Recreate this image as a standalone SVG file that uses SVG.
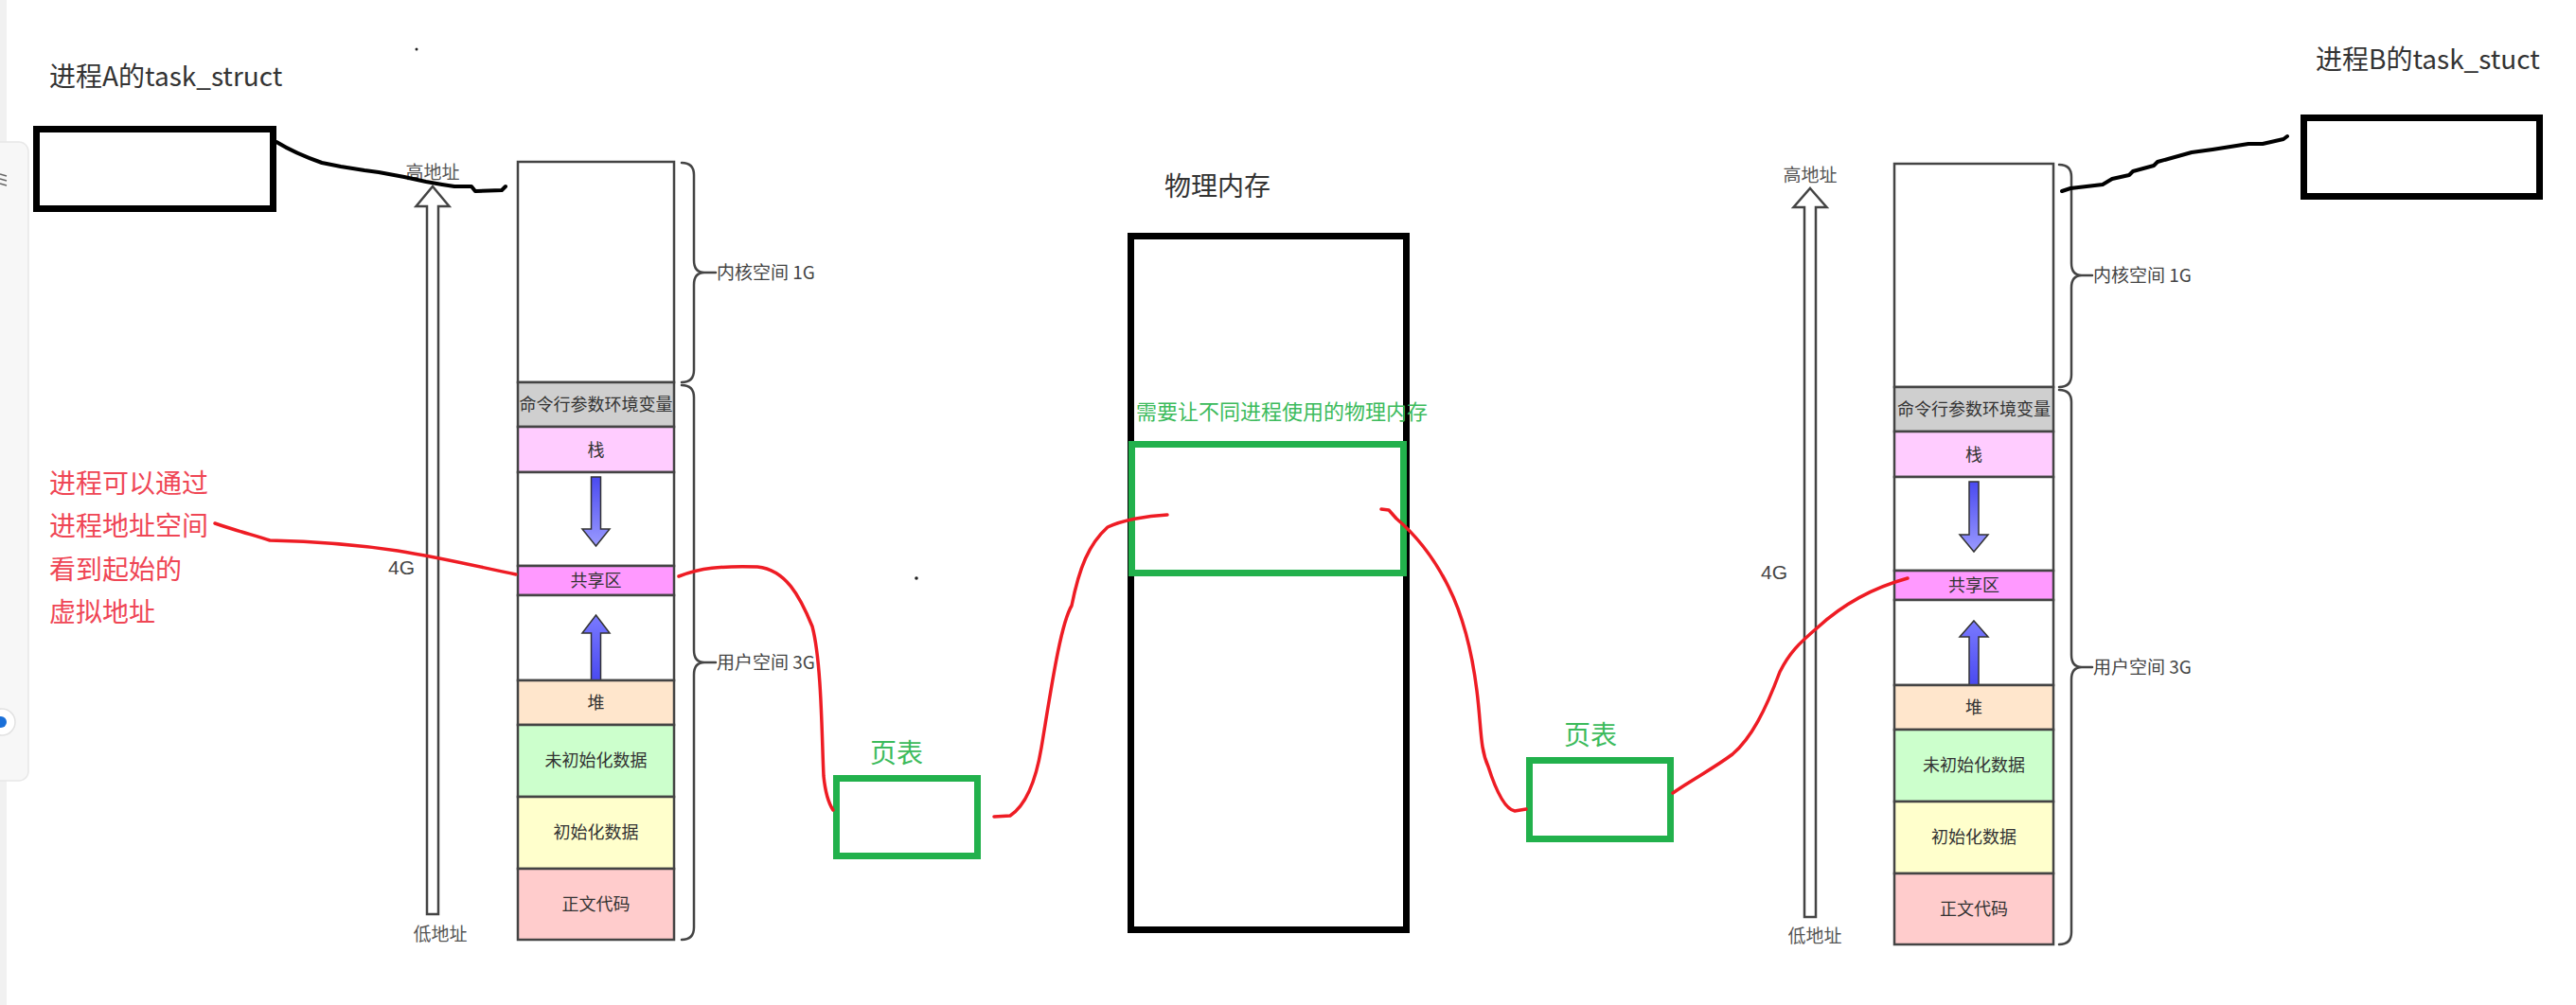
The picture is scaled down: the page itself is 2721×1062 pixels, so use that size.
<svg xmlns="http://www.w3.org/2000/svg" width="2721" height="1062" viewBox="0 0 2721 1062">
<defs>
<style>
.cj{font-family:"Noto Sans CJK SC","Noto Sans",sans-serif;}
.seg{stroke:#444;stroke-width:2.5;}
.lbl{font-size:18px;fill:#333;text-anchor:middle;}
.side{font-size:19px;fill:#444;}
.hollow{fill:#fff;stroke:#444;stroke-width:2.5;stroke-linejoin:miter;}
.blue{stroke:#333;stroke-width:1.5;}
.brace{fill:none;stroke:#444;stroke-width:2.5;stroke-linecap:round;}
.blk{fill:none;stroke:#000;stroke-width:7;}
.grn{fill:none;stroke:#22b14c;stroke-width:7;}
.red{fill:none;stroke:#ee1c24;stroke-width:3.5;stroke-linecap:round;stroke-linejoin:round;}
.ink{fill:none;stroke:#000;stroke-width:4;stroke-linecap:round;stroke-linejoin:round;}
.title{font-size:28px;fill:#333;}
.gtxt{fill:#3cbb5c;}
.rtxt{font-size:28px;fill:#ef4655;}
.addr{font-size:19px;fill:#555;text-anchor:middle;}
</style>
<linearGradient id="gDown" x1="0" y1="0" x2="0" y2="1">
<stop offset="0" stop-color="#4a4af0"/><stop offset="1" stop-color="#9a9aff"/>
</linearGradient>
<linearGradient id="gUp" x1="0" y1="1" x2="0" y2="0">
<stop offset="0" stop-color="#4a4af0"/><stop offset="1" stop-color="#7a7aff"/>
</linearGradient>
</defs>
<rect width="2721" height="1062" fill="#ffffff"/>

<!-- screenshot side strip -->
<g id="sidebar">
<rect x="0" y="0" width="7" height="1062" fill="#f1f1f1"/>
<rect x="-12" y="150" width="42" height="675" rx="10" fill="#f7f7f7" stroke="#e8e8e8" stroke-width="1.5"/>
<path d="M0,184 L7,186 M0,189 L7,191 M0,194 L7,196" stroke="#666" stroke-width="1.5" fill="none"/>
<circle cx="2" cy="763" r="14" fill="#fff" stroke="#e2e2e2" stroke-width="1.5"/>
<circle cx="1" cy="763" r="6" fill="#1a6fd8"/>
<circle cx="440" cy="52" r="1.5" fill="#222"/>
<circle cx="968" cy="611" r="1.8" fill="#222"/>
</g>

<!-- Process A -->
<g id="taskA">
<text class="cj title" x="52" y="91">进程A的task_struct</text>
<rect class="blk" x="38.5" y="136.5" width="250" height="84" fill="#fff"/>
</g>

<g id="addrArrowA">
<text class="cj addr" x="457" y="189">高地址</text>
<path class="hollow" d="M457,197 L474.5,218 L463,218 L463,966 L451,966 L451,218 L439.5,218 Z"/>
<text x="424" y="607" font-family="Liberation Sans, sans-serif" font-size="21" fill="#444" text-anchor="middle">4G</text>
<text class="cj addr" x="465" y="994">低地址</text>
</g>

<g id="columnA">
<rect class="seg" x="547" y="171" width="165" height="233" fill="#fff"/>
<rect class="seg" x="547" y="404" width="165" height="47" fill="#cfcfcf"/>
<text class="cj lbl" x="629.5" y="434">命令行参数环境变量</text>
<rect class="seg" x="547" y="451" width="165" height="48" fill="#ffccff"/>
<text class="cj lbl" x="629.5" y="482">栈</text>
<rect class="seg" x="547" y="499" width="165" height="99" fill="#fff"/>
<path class="blue" fill="url(#gDown)" d="M624.5,504 L634.5,504 L634.5,559 L644,559 L629.5,577 L615,559 L624.5,559 Z"/>
<rect class="seg" x="547" y="598" width="165" height="31" fill="#ff99ff"/>
<text class="cj lbl" x="629.5" y="620">共享区</text>
<rect class="seg" x="547" y="629" width="165" height="90" fill="#fff"/>
<path class="blue" fill="url(#gUp)" d="M629.5,650 L644,669 L634.5,669 L634.5,719 L624.5,719 L624.5,669 L615,669 Z"/>
<rect class="seg" x="547" y="719" width="165" height="47" fill="#ffe6cc"/>
<text class="cj lbl" x="629.5" y="749">堆</text>
<rect class="seg" x="547" y="766" width="165" height="76" fill="#ccffcc"/>
<text class="cj lbl" x="629.5" y="810">未初始化数据</text>
<rect class="seg" x="547" y="842" width="165" height="76" fill="#ffffcc"/>
<text class="cj lbl" x="629.5" y="886">初始化数据</text>
<rect class="seg" x="547" y="918" width="165" height="75" fill="#ffcccc"/>
<text class="cj lbl" x="629.5" y="962">正文代码</text>
</g>

<g id="bracesA">
<path class="brace" d="M720,172 Q733,172 733,185 L733,275 Q733,288 744,288 L756,288 M744,288 Q733,288 733,301 L733,391 Q733,404 720,404"/>
<text class="cj side" x="757" y="295">内核空间 1G</text>
<path class="brace" d="M720,407 Q733,407 733,420 L733,687 Q733,700 744,700 L756,700 M744,700 Q733,700 733,713 L733,980 Q733,993 720,993"/>
<text class="cj side" x="757" y="707">用户空间 3G</text>
</g>

<g id="noteA">
<text class="cj rtxt" x="52" y="521">进程可以通过</text>
<text class="cj rtxt" x="52" y="566">进程地址空间</text>
<text class="cj rtxt" x="52" y="612">看到起始的</text>
<text class="cj rtxt" x="52" y="657">虚拟地址</text>
</g>

<!-- page tables -->
<g id="pageTableA">
<text class="cj gtxt" x="947" y="806" font-size="28" text-anchor="middle">页表</text>
<rect class="grn" x="883.5" y="822.5" width="149" height="82"/>
</g>
<g id="pageTableB">
<text class="cj gtxt" x="1680" y="787" font-size="28" text-anchor="middle">页表</text>
<rect class="grn" x="1615.5" y="803.5" width="149" height="83"/>
</g>

<!-- physical memory -->
<g id="physMem">
<text class="cj" x="1286" y="207" font-size="28" fill="#333" text-anchor="middle">物理内存</text>
<rect class="blk" x="1194.5" y="249.5" width="291" height="733"/>
<text class="cj gtxt" x="1200" y="443" font-size="22">需要让不同进程使用的物理内存</text>
<rect class="grn" x="1195.5" y="469.5" width="287" height="136"/>
</g>

<!-- Process B -->
<g id="taskB">
<text class="cj title" x="2446" y="73">进程B的task_stuct</text>
<rect class="blk" x="2433.5" y="124.5" width="249" height="83" fill="#fff"/>
</g>

<g id="addrArrowB">
<text class="cj addr" x="1912" y="192">高地址</text>
<path class="hollow" d="M1912,199 L1929.5,219 L1918,219 L1918,969 L1906,969 L1906,219 L1894.5,219 Z"/>
<text x="1874" y="612" font-family="Liberation Sans, sans-serif" font-size="21" fill="#444" text-anchor="middle">4G</text>
<text class="cj addr" x="1917" y="996">低地址</text>
</g>

<g id="columnB">
<rect class="seg" x="2001" y="173" width="168" height="236" fill="#fff"/>
<rect class="seg" x="2001" y="409" width="168" height="47" fill="#cfcfcf"/>
<text class="cj lbl" x="2085" y="439">命令行参数环境变量</text>
<rect class="seg" x="2001" y="456" width="168" height="48" fill="#ffccff"/>
<text class="cj lbl" x="2085" y="487">栈</text>
<rect class="seg" x="2001" y="504" width="168" height="99" fill="#fff"/>
<path class="blue" fill="url(#gDown)" d="M2080,509 L2090,509 L2090,565 L2100,565 L2085,583 L2070,565 L2080,565 Z"/>
<rect class="seg" x="2001" y="603" width="168" height="31" fill="#ff99ff"/>
<text class="cj lbl" x="2085" y="625">共享区</text>
<rect class="seg" x="2001" y="634" width="168" height="90" fill="#fff"/>
<path class="blue" fill="url(#gUp)" d="M2085,656 L2100,673 L2090,673 L2090,724 L2080,724 L2080,673 L2070,673 Z"/>
<rect class="seg" x="2001" y="724" width="168" height="47" fill="#ffe6cc"/>
<text class="cj lbl" x="2085" y="754">堆</text>
<rect class="seg" x="2001" y="771" width="168" height="76" fill="#ccffcc"/>
<text class="cj lbl" x="2085" y="815">未初始化数据</text>
<rect class="seg" x="2001" y="847" width="168" height="76" fill="#ffffcc"/>
<text class="cj lbl" x="2085" y="891">初始化数据</text>
<rect class="seg" x="2001" y="923" width="168" height="75" fill="#ffcccc"/>
<text class="cj lbl" x="2085" y="967">正文代码</text>
</g>

<g id="bracesB">
<path class="brace" d="M2175,174 Q2188,174 2188,187 L2188,278 Q2188,291 2199,291 L2210,291 M2199,291 Q2188,291 2188,304 L2188,396 Q2188,409 2175,409"/>
<text class="cj side" x="2211" y="298">内核空间 1G</text>
<path class="brace" d="M2175,412 Q2188,412 2188,425 L2188,692 Q2188,705 2199,705 L2210,705 M2199,705 Q2188,705 2188,718 L2188,985 Q2188,998 2175,998"/>
<text class="cj side" x="2211" y="712">用户空间 3G</text>
</g>

<!-- connectors -->
<g id="connectors">
<path class="ink" d="M292,150 C305,158 320,165 340,172 L360,176 L385,180 L400,182 L427,187 L450,192 L467,195 L480,197 L498,197 L502,202 L530,201 L534,197"/>
<path class="ink" d="M2178,202 L2187,199 L2221,195 L2231,189 L2249,185 L2253,181 L2275,175 L2279,171 L2315,161 L2337,158 L2375,152 L2390,152 L2412,147 L2416,144"/>
<path class="red" d="M227,553 C250,561 270,566 285,571 C330,572 380,576 420,582 C470,590 510,600 545,607"/>
<path class="red" d="M717,609 C740,600 760,598 800,599 C830,602 845,630 858,662 C868,700 868,780 870,820 C872,840 876,850 880,856"/>
<path class="red" d="M1050,863 L1067,862 C1085,850 1095,820 1100,790 C1110,730 1120,660 1132,640 C1140,600 1150,575 1170,557 C1185,550 1210,545 1233,544"/>
<path class="red" d="M1459,538 L1467,539 L1475,548 C1495,565 1515,590 1530,620 C1545,650 1555,690 1560,730 C1565,770 1563,790 1572,810 C1580,835 1590,855 1600,857 L1612,855"/>
<path class="red" d="M1767,838 C1790,822 1810,812 1830,797 C1850,780 1865,750 1880,710 C1890,690 1900,680 1920,663 C1945,640 1975,622 2015,611"/>
</g>
</svg>
